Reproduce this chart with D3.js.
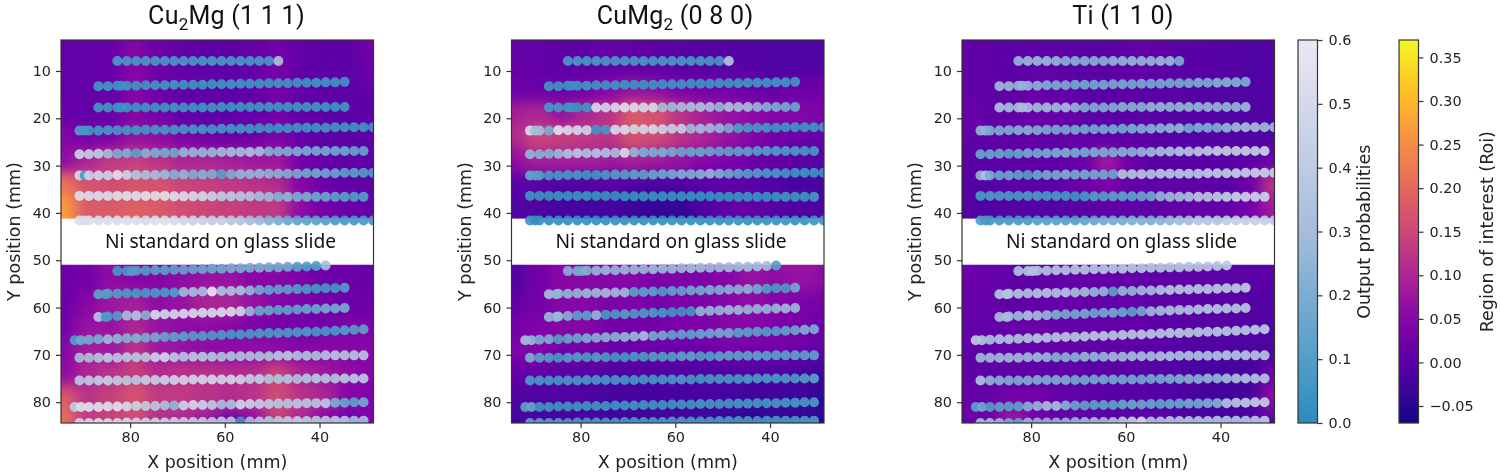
<!DOCTYPE html>
<html>
<head>
<meta charset="utf-8">
<script src="https://cdn.jsdelivr.net/npm/d3@7"></script>
<style>
  html, body { margin: 0; padding: 0; background: #fff; }
  svg { display: block; filter: blur(0.35px); }
  text { font-family: "DejaVu Sans"; fill: #222; }
  .title { font-family: Roboto; fill: #111; }
  .note { font-family: "Noto Sans"; fill: #111; }
  .domain, .tick line { stroke: #333; stroke-width: 1.2; }
  .tick text { font-size: 14.4px; font-family: "DejaVu Sans"; fill: #222; }
</style>
</head>
<body>
<svg id="chart" width="1500" height="476"></svg>
<script>
// Scan positions (mm)
const xsA = [82.7,80.7,78.7,76.7,74.7,72.7,70.7,68.7,66.7,64.7,62.7,60.7,58.7,56.7,54.7,52.7,50.7,48.7];
const xsB = [86.7,84.7,82.7,81.9,80.7,78.7,76.7,74.7,72.7,70.7,68.7,66.7,64.7,62.7,60.7,58.7,56.7,54.7,52.7,50.7,48.7,46.7,44.7,42.7,40.7,38.7,36.7,34.7];
const xsC = [90.7,89.6,88.7,86.7,84.7,82.7,80.7,78.7,76.7,74.7,72.7,70.7,68.7,66.7,64.7,62.7,60.7,58.7,56.7,54.7,52.7,50.7,48.7,46.7,44.7,42.7,40.7,38.7,36.7,34.7,32.7,30.7,28.7];
const xsD = [90.7,88.7,86.7,84.7,82.7,80.7,78.7,76.7,74.7,72.7,70.7,68.7,66.7,64.7,62.7,60.7,58.7,56.7,54.7,52.7,50.7,48.7,46.7,44.7,42.7,40.7,38.7,36.7,34.7,32.7,30.7];
const xsE = [82.7,80.7,79.7,78.7,76.7,74.7,72.7,70.7,68.7,66.7,64.7,62.7,60.7,58.7,56.7,54.7,52.7,50.7,48.7,46.7,44.7,42.7,40.7,38.7];
const xsF = [86.7,85.2,84.7,82.7,80.7,78.7,76.7,74.7,72.7,70.7,68.7,66.7,64.7,62.7,60.7,58.7,56.7,54.7,52.7,50.7,48.7,46.7,44.7,42.7,40.7,38.7,36.7,34.7];
const xsG = [91.7,90.4,88.7,86.7,84.7,82.7,80.7,78.7,76.7,74.7,72.7,70.7,68.7,66.7,64.7,62.7,60.7,58.7,56.7,54.7,52.7,50.7,48.7,46.7,44.7,42.7,40.7,38.7,36.7,34.7,32.7,30.7];
const rowX = [xsA, xsB, xsB, xsC, xsD, xsC, xsD, xsC, xsE, xsF, xsF, xsG, xsD, xsD, xsG, xsD];

const rowY = [
  [7.9,7.9,7.9,7.9,7.9,7.9,7.9,7.9,7.9,7.9,7.9,7.9,7.9,7.9,7.9,7.9,7.9,7.9],
  [13.2,13.2,13.1,13.1,13.1,13.1,13.0,13.0,13.0,12.9,12.9,12.9,12.9,12.8,12.8,12.8,12.7,12.7,12.7,12.6,12.6,12.6,12.5,12.5,12.5,12.4,12.4,12.3],
  [17.7,17.7,17.7,17.7,17.7,17.7,17.7,17.7,17.7,17.7,17.7,17.7,17.7,17.7,17.6,17.6,17.6,17.6,17.6,17.6,17.6,17.6,17.6,17.6,17.6,17.6,17.6,17.6],
  [22.6,22.6,22.6,22.6,22.5,22.5,22.5,22.5,22.4,22.4,22.4,22.4,22.3,22.3,22.3,22.3,22.2,22.2,22.2,22.2,22.1,22.1,22.1,22.1,22.0,22.0,22.0,22.0,21.9,21.9,21.9,21.9,21.9],
  [27.6,27.6,27.5,27.5,27.5,27.4,27.4,27.4,27.3,27.3,27.3,27.2,27.2,27.2,27.2,27.1,27.1,27.1,27.1,27.0,27.0,27.0,27.0,27.0,26.9,26.9,26.9,26.9,26.9,26.9,26.9],
  [32.1,32.1,32.1,32.1,32.1,32.0,32.0,32.0,32.0,32.0,31.9,31.9,31.9,31.9,31.9,31.8,31.8,31.8,31.8,31.8,31.7,31.7,31.7,31.7,31.7,31.6,31.6,31.6,31.6,31.5,31.5,31.5,31.5],
  [36.4,36.4,36.4,36.4,36.4,36.4,36.4,36.4,36.4,36.4,36.5,36.5,36.5,36.5,36.5,36.5,36.5,36.5,36.5,36.5,36.6,36.6,36.6,36.6,36.6,36.6,36.6,36.6,36.6,36.6,36.6],
  [41.6,41.6,41.6,41.6,41.6,41.6,41.6,41.6,41.6,41.6,41.6,41.6,41.6,41.6,41.6,41.6,41.6,41.6,41.6,41.6,41.6,41.6,41.6,41.6,41.6,41.6,41.6,41.6,41.6,41.6,41.6,41.6,41.6],
  [52.3,52.3,52.3,52.2,52.2,52.1,52.1,52.0,52.0,51.9,51.9,51.8,51.8,51.7,51.7,51.6,51.6,51.5,51.5,51.4,51.4,51.3,51.2,51.1],
  [57.2,57.2,57.1,57.1,57.0,57.0,56.9,56.9,56.8,56.8,56.7,56.7,56.6,56.6,56.5,56.5,56.4,56.4,56.3,56.3,56.2,56.2,56.1,56.1,56.0,55.9,55.9,55.8],
  [62.0,62.0,61.9,61.8,61.7,61.7,61.6,61.5,61.4,61.4,61.3,61.2,61.1,61.1,61.0,60.9,60.8,60.8,60.7,60.6,60.5,60.5,60.4,60.3,60.3,60.2,60.2,60.1],
  [66.9,66.9,66.8,66.7,66.7,66.6,66.5,66.5,66.4,66.3,66.2,66.2,66.1,66.0,66.0,65.9,65.8,65.7,65.7,65.6,65.5,65.4,65.4,65.3,65.2,65.1,65.1,65.0,64.9,64.8,64.7,64.6],
  [70.6,70.6,70.6,70.6,70.6,70.5,70.5,70.5,70.5,70.5,70.5,70.4,70.4,70.4,70.4,70.4,70.3,70.3,70.3,70.3,70.3,70.2,70.2,70.2,70.2,70.2,70.1,70.1,70.1,70.1,70.1],
  [75.4,75.4,75.4,75.4,75.4,75.4,75.3,75.3,75.3,75.3,75.3,75.3,75.2,75.2,75.2,75.2,75.2,75.2,75.1,75.1,75.1,75.1,75.1,75.1,75.0,75.0,75.0,75.0,75.0,75.0,75.0],
  [81.0,81.0,81.0,81.0,80.9,80.9,80.9,80.8,80.8,80.8,80.7,80.7,80.7,80.6,80.6,80.6,80.5,80.5,80.5,80.4,80.4,80.4,80.3,80.3,80.3,80.2,80.2,80.2,80.1,80.1,80.0,80.0],
  [84.4,84.4,84.4,84.4,84.4,84.3,84.3,84.3,84.3,84.3,84.2,84.2,84.2,84.2,84.2,84.1,84.1,84.1,84.1,84.1,84.0,84.0,84.0,84.0,84.0,83.9,83.9,83.9,83.9,83.9,83.9]
];

// Output probabilities per scan row
const probCu2Mg = [
  [.08,.07,.07,.07,.07,.07,.07,.07,.07,.07,.07,.07,.07,.07,.07,.07,.07,.33],
  [.06,.06,.05,.04,.05,.05,.05,.05,.05,.05,.05,.05,.05,.05,.05,.05,.05,.05,.05,.05,.05,.05,.05,.05,.05,.05,.05,.05],
  [.06,.05,.05,.04,.05,.05,.05,.05,.05,.05,.05,.05,.05,.05,.05,.05,.05,.05,.05,.05,.05,.05,.05,.05,.05,.05,.05,.05],
  [.1,.07,.06,.06,.06,.06,.06,.06,.06,.06,.06,.06,.06,.06,.06,.06,.06,.06,.06,.06,.05,.05,.05,.05,.05,.05,.05,.05,.05,.05,.05,.05,.05],
  [.45,.42,.4,.3,.2,.2,.12,.22,.2,.18,.17,.25,.25,.26,.26,.28,.3,.3,.33,.3,.22,.2,.2,.2,.19,.18,.18,.17,.16,.14,.14],
  [.5,.08,.45,.47,.45,.55,.45,.37,.32,.3,.27,.22,.25,.2,.22,.2,.12,.2,.25,.25,.25,.24,.22,.2,.18,.17,.17,.15,.15,.12,.12,.1,.1],
  [.53,.53,.52,.52,.53,.55,.53,.55,.52,.55,.53,.52,.5,.5,.45,.4,.4,.38,.35,.3,.28,.22,.25,.2,.2,.17,.15,.12,.12,.1,.1],
  [.52,.52,.52,.52,.53,.52,.52,.52,.5,.52,.52,.5,.48,.45,.45,.42,.42,.38,.35,.3,.27,.22,.2,.15,.13,.12,.12,.1,.08,.07,.07,.07,.06],
  [.06,.07,.1,.1,.1,.12,.12,.13,.14,.15,.16,.17,.18,.2,.2,.2,.2,.2,.18,.18,.12,.1,.1,.3],
  [.13,.1,.1,.1,.08,.07,.07,.08,.08,.1,.28,.3,.3,.58,.33,.32,.32,.25,.17,.14,.13,.12,.1,.08,.07,.06,.06,.09],
  [.35,.1,.08,.1,.3,.35,.22,.5,.48,.48,.5,.5,.5,.5,.52,.52,.48,.25,.15,.15,.13,.13,.13,.15,.15,.18,.18,.18],
  [.1,.17,.18,.2,.28,.24,.22,.22,.18,.18,.15,.13,.12,.1,.1,.08,.08,.07,.07,.07,.08,.08,.08,.08,.08,.08,.07,.07,.08,.1,.1,.12],
  [.3,.32,.36,.4,.37,.38,.37,.37,.45,.48,.38,.35,.38,.38,.35,.33,.33,.33,.32,.32,.33,.35,.38,.33,.33,.32,.35,.37,.35,.36,.36],
  [.38,.4,.42,.43,.4,.38,.38,.42,.42,.45,.47,.47,.47,.48,.48,.47,.48,.45,.42,.42,.35,.35,.35,.33,.35,.37,.35,.35,.38,.38,.38],
  [.42,.55,.55,.56,.55,.55,.5,.45,.4,.38,.33,.25,.45,.48,.45,.4,.3,.33,.47,.45,.42,.4,.37,.35,.38,.38,.37,.38,.2,.15,.13,.18],
  [.5,.5,.55,.52,.5,.5,.48,.47,.47,.47,.45,.42,.42,.4,.4,.38,.36,.05,.3,.35,.35,.38,.4,.42,.4,.38,.38,.38,.35,.3,.3]
];
const probCuMg2 = [
  [.07,.07,.07,.07,.07,.07,.07,.07,.07,.07,.07,.07,.07,.07,.07,.07,.07,.35],
  [.05,.05,.04,.03,.04,.05,.05,.05,.05,.05,.05,.05,.05,.05,.05,.05,.05,.05,.05,.05,.05,.05,.05,.05,.05,.05,.05,.05],
  [.07,.06,.05,.05,.04,.06,.5,.47,.5,.53,.52,.5,.5,.3,.28,.3,.33,.33,.3,.25,.33,.3,.3,.25,.22,.2,.18,.15],
  [.52,.3,.3,.2,.55,.5,.48,.45,.05,.07,.5,.52,.48,.48,.5,.45,.42,.42,.28,.3,.28,.25,.18,.1,.07,.07,.06,.05,.05,.05,.05,.05,.05],
  [.25,.22,.22,.27,.33,.38,.33,.35,.33,.3,.5,.25,.2,.2,.2,.18,.15,.15,.15,.15,.13,.13,.12,.12,.1,.1,.1,.08,.08,.07,.07],
  [.15,.12,.1,.07,.07,.07,.07,.05,.05,.07,.1,.1,.12,.12,.15,.15,.18,.2,.2,.22,.25,.2,.15,.13,.1,.1,.07,.07,.05,.05,.05,.05,.05],
  [.05,.04,.04,.04,.04,.04,.04,.03,.03,.03,.03,.03,.03,.03,.03,.03,.03,.03,.03,.03,.03,.03,.03,.04,.04,.04,.04,.05,.05,.05,.06],
  [.05,.02,.02,.02,.02,.02,.02,.02,.02,.02,.02,.02,.02,.02,.02,.02,.02,.02,.02,.02,.02,.02,.03,.03,.03,.03,.03,.03,.04,.04,.04,.05,.05],
  [.22,.2,.18,.22,.25,.28,.25,.27,.27,.27,.28,.28,.28,.28,.3,.3,.28,.28,.3,.3,.3,.3,.3,.12],
  [.3,.25,.25,.25,.25,.27,.28,.3,.28,.28,.12,.12,.12,.08,.13,.13,.17,.18,.2,.2,.22,.22,.23,.18,.1,.08,.08,.17],
  [.27,.22,.27,.22,.12,.12,.25,.07,.08,.1,.08,.08,.08,.07,.05,.05,.06,.25,.25,.25,.27,.27,.25,.25,.25,.27,.28,.27],
  [.3,.27,.2,.2,.1,.15,.15,.2,.22,.23,.23,.25,.27,.3,.18,.17,.13,.13,.13,.15,.15,.17,.17,.12,.12,.12,.1,.1,.13,.15,.2,.2],
  [.2,.12,.1,.07,.1,.1,.08,.1,.08,.06,.06,.08,.08,.1,.1,.1,.12,.12,.1,.1,.12,.12,.12,.12,.12,.12,.12,.12,.12,.12,.13],
  [.08,.07,.07,.06,.07,.07,.07,.07,.06,.06,.06,.06,.06,.06,.07,.07,.08,.07,.07,.07,.07,.07,.07,.08,.08,.08,.08,.08,.08,.1,.12],
  [.12,.15,.05,.05,.05,.05,.05,.05,.05,.05,.05,.05,.05,.05,.05,.05,.05,.05,.05,.06,.06,.06,.06,.06,.06,.06,.06,.06,.06,.07,.07,.08],
  [.12,.12,.1,.1,.08,.08,.08,.08,.08,.07,.07,.07,.07,.07,.07,.07,.07,.07,.07,.07,.07,.07,.07,.07,.07,.07,.07,.07,.07,.08,.08]
];
const probTi = [
  [.25,.27,.27,.27,.25,.22,.22,.22,.22,.22,.25,.25,.25,.25,.25,.27,.27,.2],
  [.28,.27,.25,.25,.25,.22,.2,.18,.18,.17,.17,.17,.18,.18,.18,.18,.18,.18,.18,.18,.18,.18,.2,.2,.22,.22,.22,.2],
  [.32,.3,.3,.3,.32,.28,.3,.28,.3,.25,.2,.2,.2,.2,.22,.22,.22,.25,.25,.25,.25,.25,.25,.25,.25,.25,.25,.28],
  [.25,.25,.2,.2,.2,.22,.22,.2,.18,.18,.17,.17,.17,.17,.17,.18,.17,.2,.2,.22,.22,.25,.25,.18,.2,.2,.2,.25,.28,.3,.3,.28,.28],
  [.15,.15,.15,.13,.15,.17,.17,.18,.2,.2,.18,.18,.2,.2,.2,.22,.22,.25,.28,.3,.32,.35,.35,.38,.4,.42,.42,.42,.42,.42,.45],
  [.25,.35,.2,.15,.15,.13,.1,.15,.18,.18,.2,.18,.18,.18,.17,.15,.35,.35,.35,.35,.37,.37,.37,.38,.38,.4,.4,.4,.42,.42,.45,.45,.45],
  [.08,.08,.08,.08,.07,.08,.08,.07,.07,.06,.05,.08,.1,.1,.12,.13,.13,.15,.17,.25,.28,.3,.33,.37,.38,.4,.42,.45,.45,.45,.45],
  [.1,.08,.07,.07,.07,.07,.07,.1,.1,.1,.1,.1,.13,.15,.18,.18,.18,.2,.2,.2,.22,.25,.28,.3,.35,.35,.35,.4,.42,.42,.42,.42,.4],
  [.33,.35,.35,.35,.35,.35,.35,.37,.37,.37,.37,.38,.38,.38,.38,.38,.38,.38,.38,.38,.38,.38,.38,.4],
  [.35,.35,.35,.35,.33,.35,.35,.33,.35,.3,.3,.25,.25,.12,.25,.25,.28,.3,.35,.37,.37,.38,.38,.38,.38,.38,.4,.4],
  [.3,.3,.3,.27,.33,.28,.25,.2,.17,.17,.17,.15,.17,.17,.15,.12,.17,.28,.3,.33,.33,.35,.35,.37,.37,.37,.37,.37],
  [.4,.35,.33,.35,.35,.33,.35,.37,.37,.37,.37,.37,.38,.38,.38,.37,.37,.37,.37,.37,.37,.38,.38,.38,.37,.37,.38,.38,.38,.38,.4,.4],
  [.28,.28,.28,.28,.28,.28,.28,.25,.22,.22,.22,.25,.25,.25,.28,.28,.3,.3,.3,.32,.32,.32,.32,.32,.32,.32,.35,.35,.35,.35,.35],
  [.33,.25,.22,.2,.2,.2,.2,.2,.2,.2,.18,.17,.17,.17,.17,.17,.17,.17,.18,.18,.2,.2,.22,.22,.25,.25,.3,.33,.35,.35,.35],
  [.12,.17,.1,.12,.12,.13,.22,.25,.3,.3,.22,.15,.13,.12,.13,.13,.15,.15,.15,.15,.13,.15,.15,.17,.17,.2,.22,.35,.38,.4,.42,.42],
  [.3,.3,.28,.2,.15,.25,.25,.25,.25,.25,.25,.28,.3,.3,.35,.38,.42,.52,.35,.35,.35,.35,.35,.35,.35,.35,.35,.35,.35,.38,.4]
];

// Background Roi map, sampled on a coarse grid
const heatX = [94,89,84,79,74,69,64,59,54,49,44,39,34,29];
const heatY = [4,9,14,19,24,29,34,39,44,49,54,59,64,69,74,79,84];
const roiCu2Mg = [
  [.01,.01,.015,.05,.02,.01,.005,.005,.01,.03,.01,.005,.005,.03],
  [.01,.01,.015,.05,.02,.01,.005,.005,.01,.035,.01,.005,.005,.02],
  [.01,.01,.015,.05,.02,.01,.005,.005,.01,.035,.01,.005,.005,.01],
  [.015,.01,.015,.05,.03,.01,.005,.005,.01,.03,.01,.005,.005,.005],
  [.05,.03,.04,.07,.06,.04,.03,.02,.02,.04,.015,.005,.005,.005],
  [.06,.1,.13,.14,.12,.1,.1,.09,.08,.08,.03,.01,.005,.005],
  [.22,.17,.16,.17,.17,.15,.14,.13,.12,.11,.05,.02,.01,.005],
  [.27,.18,.18,.19,.18,.16,.15,.14,.13,.13,.06,.03,.02,.01],
  [.27,.18,.18,.19,.18,.16,.15,.14,.13,.13,.06,.03,.02,.01],
  [.02,.03,.06,.05,.05,.06,.07,.07,.05,.05,.04,.02,.02,.01],
  [.02,.03,.06,.05,.05,.06,.07,.07,.05,.05,.04,.02,.02,.01],
  [.02,.05,.08,.09,.06,.07,.1,.1,.07,.05,.04,.03,.02,.02],
  [.03,.07,.07,.1,.07,.06,.06,.05,.04,.03,.03,.03,.04,.04],
  [.05,.09,.08,.12,.08,.07,.06,.06,.06,.06,.05,.05,.05,.05],
  [.06,.1,.12,.14,.11,.12,.12,.11,.11,.15,.1,.08,.06,.05],
  [.18,.12,.14,.17,.13,.13,.12,.11,.12,.16,.12,.1,.05,.04],
  [.21,.13,.14,.16,.11,.1,.08,.02,.06,.14,.1,.05,.03,.04]
];
const roiCuMg2 = [
  [.01,.01,.005,.005,.01,.01,.005,0,-.005,-.005,-.01,-.01,-.01,-.01],
  [.01,.01,.005,.005,.01,.01,.005,0,-.005,-.005,-.005,-.01,-.01,-.01],
  [.02,.02,.02,.03,.05,.07,.06,.04,.03,.03,.02,.01,.02,.02],
  [.09,.1,.07,.1,.12,.18,.17,.12,.09,.07,.06,.05,.05,.04],
  [.11,.15,.14,.13,.12,.17,.16,.12,.1,.07,.05,.03,.02,.01],
  [.06,.09,.09,.09,.08,.09,.08,.07,.05,.04,.02,.01,0,0],
  [0,0,-.01,-.01,0,-.01,-.02,-.01,0,0,0,-.01,-.02,-.02],
  [-.01,-.01,-.02,-.02,-.02,-.03,-.04,-.04,-.01,.01,.01,0,-.01,-.01],
  [-.01,-.01,-.02,-.02,-.02,-.03,-.04,-.04,-.01,.01,.01,0,-.01,-.01],
  [0,.03,.05,.05,.05,.05,.04,.04,.04,.05,.06,.06,.07,.06],
  [-.01,.03,.05,.05,.05,.05,.04,.04,.04,.05,.07,.06,.07,.06],
  [.01,.03,.05,.05,.04,.04,.03,.04,.04,.05,.06,.05,.04,.03],
  [.03,.04,.05,.05,.03,.03,.03,.04,.04,.05,.05,.04,.03,.02],
  [.04,.05,.03,.03,.02,.02,.02,.02,.02,.03,.03,.03,.02,.01],
  [.01,.01,0,0,-.01,-.01,-.01,-.01,-.01,-.01,-.01,-.01,-.02,-.03],
  [-.01,-.01,-.01,-.01,-.02,-.02,-.02,-.02,-.02,-.02,-.03,-.03,-.03,-.04],
  [-.02,-.02,-.02,-.02,-.03,-.03,-.03,-.03,-.03,-.04,-.05,-.04,-.04,-.05]
];
const roiTi = [
  [.01,.005,0,.005,0,0,0,.01,.01,0,0,-.005,-.01,-.01],
  [.01,.005,0,.005,.005,0,0,.01,.005,0,0,-.005,-.01,-.01],
  [.01,.005,.005,.015,.01,0,0,.005,0,0,-.005,-.005,-.01,-.01],
  [.015,.01,.01,.02,.02,.005,0,0,0,-.005,-.005,-.01,-.01,-.01],
  [.01,.005,.005,.01,.01,.01,.005,0,0,-.005,-.005,-.005,-.01,-.01],
  [0,0,.005,.005,.005,.02,.08,.02,0,0,0,0,0,.02],
  [-.005,-.005,0,0,.005,.02,.04,.01,.005,.005,.005,0,.02,.12],
  [-.01,-.01,-.005,-.005,-.005,0,.005,.005,.005,.01,.01,.01,.03,.08],
  [-.01,-.01,-.005,-.005,-.005,0,.005,.005,.005,.01,.01,.01,.03,.08],
  [.02,.01,.005,.005,.01,.01,.01,.01,.005,.005,.005,0,0,0],
  [.02,.01,.005,.005,.01,.01,.01,.01,.005,.005,.005,0,0,0],
  [.015,.01,.005,.01,.015,.01,.01,.01,.005,.005,0,0,-.005,-.005],
  [.01,.01,.015,.02,.015,.01,.01,.01,.005,0,-.005,-.005,-.01,-.01],
  [.005,.005,.01,.01,.01,.005,.005,.005,0,-.005,-.01,-.01,-.015,-.015],
  [.005,.005,.005,.005,.005,.005,0,0,-.005,-.01,-.015,-.02,-.02,.02],
  [.015,.015,.03,.03,.01,.005,0,0,-.005,-.01,-.02,-.025,-.02,.06],
  [.02,.02,.08,.03,.01,.01,0,0,0,-.01,-.02,-.02,-.01,0]
];

const xTicks = [80, 60, 40];
const yTicks = [10, 20, 30, 40, 50, 60, 70, 80];
const probTicks = [0, 0.1, 0.2, 0.3, 0.4, 0.5, 0.6];
const roiTicks = [-0.05, 0, 0.05, 0.1, 0.15, 0.2, 0.25, 0.3, 0.35];

const panels = [
  { name: 'Cu', sub: '2', rest: 'Mg (1 1 1)', left: 61, titleX: 226.5, noteX: 220.5, probs: probCu2Mg, roi: roiCu2Mg },
  { name: 'CuMg', sub: '2', rest: ' (0 8 0)', left: 511.5, titleX: 675, noteX: 671, probs: probCuMg2, roi: roiCuMg2 },
  { name: 'Ti (1 1 0)', sub: '', rest: '', left: 962, titleX: 1123, noteX: 1121.5, probs: probTi, roi: roiTi }
];

// Scales
const plotW = 312.5, plotH = 383, plotTop = 40;
const xScale = d3.scaleLinear().domain([94.6, 28.6]).range([0, plotW]);
const yScale = d3.scaleLinear().domain([3.45, 84.4]).range([0, plotH]);
const roiColor = d3.scaleSequential(d3.interpolatePlasma).domain([-0.0695, 0.37]);
const probColor = d3.scaleLinear().domain([0, 0.3, 0.6]).range(['#2b8cbe', '#a6bddb', '#ece7f2']);

const svg = d3.select('#chart');
const defs = svg.append('defs');
const blur = defs.append('filter').attr('id', 'soft')
  .attr('filterUnits', 'userSpaceOnUse')
  .attr('x', -100).attr('y', -100).attr('width', 600).attr('height', 700)
  .attr('color-interpolation-filters', 'sRGB');
blur.append('feGaussianBlur').attr('stdDeviation', 7);
defs.append('clipPath').attr('id', 'plot-clip')
  .append('rect').attr('width', plotW).attr('height', plotH);

panels.forEach(p => {
  const g = svg.append('g').attr('transform', `translate(${p.left},${plotTop})`);
  const clipped = g.append('g').attr('clip-path', 'url(#plot-clip)');

  // Heat map cells, the edge cells run past the frame so the blur stays opaque
  const heat = clipped.append('g').attr('filter', 'url(#soft)');
  p.roi.forEach((row, j) => {
    row.forEach((v, i) => {
      const x0 = xScale(heatX[i] + (i === 0 ? 16 : 2.5));
      const x1 = xScale(heatX[i] - (i === heatX.length - 1 ? 16 : 2.5));
      const y0 = yScale(heatY[j] - (j === 0 ? 16 : 2.5));
      const y1 = yScale(heatY[j] + (j === heatY.length - 1 ? 16 : 2.5));
      heat.append('rect')
        .attr('x', x0).attr('y', y0)
        .attr('width', x1 - x0 + 0.5).attr('height', y1 - y0 + 0.5)
        .attr('fill', roiColor(v));
    });
  });

  // White strip where the Ni standard sat
  clipped.append('rect')
    .attr('x', 0).attr('y', yScale(41.2))
    .attr('width', plotW).attr('height', yScale(50.95) - yScale(41.2))
    .attr('fill', '#fff');

  // Scan points
  rowX.forEach((xs, r) => {
    clipped.append('g').selectAll('circle')
      .data(xs)
      .enter()
      .append('circle')
      .attr('cx', d => xScale(d))
      .attr('cy', (d, i) => yScale(rowY[r][i]))
      .attr('r', 5)
      .attr('fill', (d, i) => probColor(p.probs[r][i]))
      .attr('fill-opacity', 0.92);
  });

  g.append('text').attr('class', 'note')
    .attr('x', p.noteX - p.left).attr('y', 208)
    .attr('text-anchor', 'middle').style('font-size', '19.2px')
    .text('Ni standard on glass slide');

  // Frame and axes
  g.append('rect').attr('width', plotW).attr('height', plotH)
    .attr('fill', 'none').attr('stroke', '#333').attr('stroke-width', 1.2);
  g.append('g').attr('transform', `translate(0,${plotH})`)
    .call(d3.axisBottom(xScale).tickValues(xTicks).tickSize(5).tickPadding(4).tickSizeOuter(0))
    .call(a => a.select('.domain').remove());
  g.append('g')
    .call(d3.axisLeft(yScale).tickValues(yTicks).tickSize(5).tickPadding(5).tickSizeOuter(0))
    .call(a => a.select('.domain').remove());

  g.append('text').attr('x', plotW / 2).attr('y', 428)
    .attr('text-anchor', 'middle').style('font-size', '17.5px')
    .text('X position (mm)');
  g.append('text').attr('transform', `translate(-41,${plotH / 2}) rotate(-90)`)
    .attr('text-anchor', 'middle').style('font-size', '17.5px')
    .text('Y position (mm)');

  // Title with the subscript
  const title = svg.append('text').attr('class', 'title')
    .attr('x', p.titleX).attr('y', 23.5)
    .attr('text-anchor', 'middle').style('font-size', '25px').style('letter-spacing', '0.25px');
  title.append('tspan').text(p.name);
  if (p.sub) {
    title.append('tspan').attr('dy', 6).style('font-size', '17px').text(p.sub);
    title.append('tspan').attr('dy', -6).text(p.rest);
  }
});

// Colour bars
function colorBar(id, left, scale, colorFn, ticks, fmt, label, labelX) {
  const [lo, hi] = scale.domain();
  const grad = defs.append('linearGradient').attr('id', id)
    .attr('x1', 0).attr('y1', 1).attr('x2', 0).attr('y2', 0);
  d3.range(0, 1.001, 0.05).forEach(t => {
    grad.append('stop').attr('offset', t).attr('stop-color', colorFn(lo + t * (hi - lo)));
  });
  const g = svg.append('g').attr('transform', `translate(${left},${plotTop})`);
  g.append('rect').attr('width', 19.5).attr('height', plotH)
    .attr('fill', `url(#${id})`).attr('stroke', '#333').attr('stroke-width', 1.2);
  g.append('g').attr('transform', 'translate(19.5,0)')
    .call(d3.axisRight(scale).tickValues(ticks).tickFormat(d3.format(fmt)).tickSize(5).tickPadding(6).tickSizeOuter(0))
    .call(a => a.select('.domain').remove());
  svg.append('text').attr('transform', `translate(${labelX},231.7) rotate(-90)`)
    .attr('text-anchor', 'middle').style('font-size', '17.5px')
    .text(label);
}

const probAxis = d3.scaleLinear().domain([0, 0.6]).range([plotH, 0]);
const roiAxis = d3.scaleLinear().domain([-0.0695, 0.37]).range([plotH, 0]);
colorBar('prob-grad', 1298, probAxis, probColor, probTicks, '.1f', 'Output probabilities', 1370);
colorBar('roi-grad', 1399, roiAxis, roiColor, roiTicks, '.2f', 'Region of interest (Roi)', 1492.5);
</script>
</body>
</html>
